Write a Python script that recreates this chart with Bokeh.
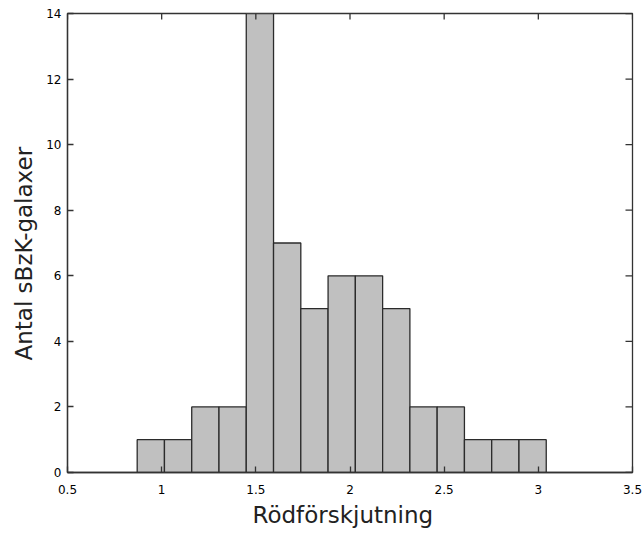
import math
from bokeh.plotting import figure
from bokeh.models import Range1d, FixedTicker, Title
from bokeh.embed import file_html
from bokeh.resources import INLINE

# Redshift histogram of sBzK galaxies
bin_start = 0.870
bin_width = 0.1448
counts = [1, 1, 2, 2, 14, 7, 5, 6, 6, 5, 2, 2, 1, 1, 1]
x_ticks = [0.5, 1, 1.5, 2, 2.5, 3, 3.5]
y_ticks = [0, 2, 4, 6, 8, 10, 12, 14]
x_min, x_max = 0.5, 3.5
y_min, y_max = 0, 14
x_title = "Rödförskjutning"
y_title = "Antal sBzK-galaxer"

lefts = [bin_start + i * bin_width for i in range(len(counts))]
rights = [l + bin_width for l in lefts]

p = figure(width=642, height=536, output_backend="svg", toolbar_location=None,
           x_range=Range1d(x_min, x_max), y_range=Range1d(y_min, y_max),
           min_border_left=67, min_border_right=10, min_border_top=13,
           min_border_bottom=64)
p.grid.visible = False
p.outline_line_color = "#333333"
p.outline_line_width = 1.3
p.background_fill_color = "white"
p.border_fill_color = "white"

p.quad(left=lefts, right=rights, bottom=0, top=counts,
       fill_color="#c0c0c0", line_color="#2b2b2b", line_width=1.3)

font = "DejaVu Sans"
for ax in (p.xaxis[0], p.yaxis[0]):
    ax.major_tick_in = 6
    ax.major_tick_out = 0
    ax.minor_tick_in = 0
    ax.minor_tick_out = 0
    ax.axis_line_color = "#333333"
    ax.axis_line_width = 1.3
    ax.major_tick_line_color = "#333333"
    ax.major_tick_line_width = 1.3
    ax.major_label_text_font = font
    ax.major_label_text_font_size = "12px"
    ax.major_label_text_color = "black"

p.xaxis[0].ticker = FixedTicker(ticks=x_ticks)
p.yaxis[0].ticker = FixedTicker(ticks=y_ticks)
p.xaxis[0].major_label_standoff = 12
p.yaxis[0].major_label_standoff = 6

# Axis titles as side titles, started a fixed distance along the frame edge
title_style = dict(align="left", text_font=font, text_font_style="normal",
                   text_font_size="23px", text_color="#222222")
p.add_layout(Title(text=x_title, offset=185, standoff=6, **title_style), "below")
p.add_layout(Title(text=y_title, offset=112, standoff=13, **title_style), "left")

# Mirror the tick marks on the top and right edges of the frame
p.scatter(x=x_ticks, y=[y_max] * len(x_ticks), marker="dash", angle=math.pi / 2,
          size=12, line_color="#333333", line_width=1.3)
p.scatter(x=[x_max] * len(y_ticks), y=y_ticks, marker="dash",
          size=14, line_color="#333333", line_width=1.3)

open("out.html", "w").write(file_html(p, INLINE))
